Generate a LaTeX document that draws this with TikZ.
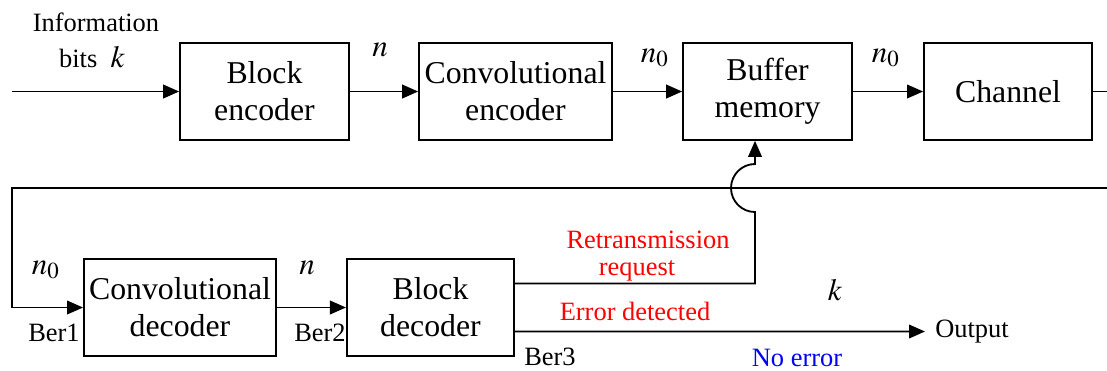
\documentclass[tikz,border=0pt]{standalone}
\usepackage{mathptmx}
\usepackage[no-math]{fontspec}
\setmainfont{Liberation Serif}
\usepackage{xcolor}
\usetikzlibrary{arrows.meta,positioning,calc}

\begin{document}
\begin{tikzpicture}[x=0.0125cm,y=-0.0125cm,>={Triangle[length=0.2cm,width=0.17cm]},line width=0.65pt,
  blk/.style={draw,minimum width=2.11cm,minimum height=1.21cm,inner sep=0pt,align=center,font=\fontsize{11.3}{13.2}\selectfont},
  lbl/.style={font=\fontsize{9.4}{11}\selectfont},
  sym/.style={font=\fontsize{11}{13}\selectfont}]
  \useasboundingbox (0,0) rectangle (1107,370);
  % transmitter side
  \node[blk] (benc) at (264.5,91.5) {Block\\encoder};
  \node[blk,minimum width=2.41cm] (cenc) at (515.5,91.5) {Convolutional\\encoder};
  \node[blk] (buf) at (767.5,91.5) {Buffer\\memory};
  \node[blk,minimum width=2.1cm] (chan) at (1008,91.5) {Channel};
  % receiver side
  \node[blk,minimum width=2.4cm] (cdec) at (180,307.5) {Convolutional\\decoder};
  \node[blk,minimum width=2.09cm] (bdec) at (430.5,307.5) {Block\\decoder};
  \node[lbl] (out) at (972,331.5) {Output};
  \coordinate (src) at (12,91.5);
  \coordinate (rx) at (1107,91.5);
  \coordinate (fbr) at (1107,188);
  \coordinate (fbl) at (12,188);
  \coordinate (hop) at (755,188);
  % labels
  \node[lbl] (info) at (96,22) {Information};
  \node[lbl] (bits) at (92,57) {bits\enspace\fontsize{11}{13}\selectfont$k$};
  \node[sym] (n1) at (380,50) {$n$};
  \node[sym] (n01) at (655,58) {$n_0$};
  \node[sym] (n02) at (886,58) {$n_0$};
  \node[sym] (n03) at (46,270) {$n_0$};
  \node[sym] (n2) at (307,268) {$n$};
  \node[sym] (k2) at (835,290) {$k$};
  \node[lbl] (ber1) at (54,333) {Ber1};
  \node[lbl] (ber2) at (320,333) {Ber2};
  \node[lbl] (ber3) at (550,357) {Ber3};
  \node[lbl,text=red] (retx) at (648,240) {Retransmission};
  \node[lbl,text=red] (reqt) at (637,271) {request};
  \node[lbl,text=red] (errd) at (635,311) {Error detected};
  \node[lbl,text=blue] (noerr) at (797,358) {No error};
  % connectors
  \draw[->] (src) -- (benc.west);
  \draw[->] (benc.east) -- (cenc.west);
  \draw[->] (cenc.east) -- (buf.west);
  \draw[->] (buf.east) -- (chan.west);
  \draw (chan.east) -- (rx);
  \draw[->] (fbr) -- (fbl) |- (cdec.west);
  \draw[->] (cdec.east) -- (bdec.west);
  \draw[->] ([yshift=0.3cm]bdec.east) -| ([yshift=-0.3cm]hop) arc[start angle=270,end angle=90,radius=0.3cm] -- (hop |- buf.south);
  \draw[->] ([yshift=-0.3cm]bdec.east) -- (out);
\end{tikzpicture}
\end{document}
